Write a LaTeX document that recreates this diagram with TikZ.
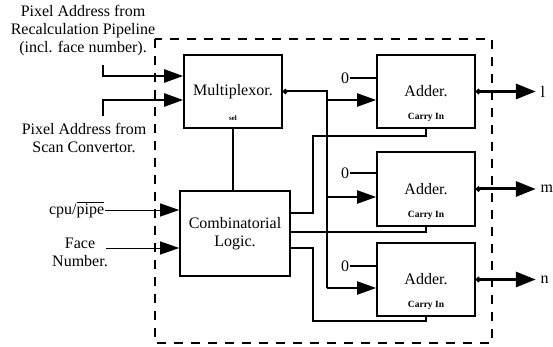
\documentclass[tikz,border=0pt]{standalone}
\usepackage{fontspec}
\setmainfont{Liberation Serif}
\usetikzlibrary{arrows.meta,calc}
\tikzset{every picture/.style={line width=1.6pt}}

\begin{document}
\begin{tikzpicture}[x=1pt,y=-1pt,
    blk/.style={draw,minimum width=98pt,minimum height=73pt,inner sep=0pt,font=\fontsize{16}{18}\selectfont},
    lbl/.style={align=center,inner sep=0pt,font=\fontsize{16}{18}\selectfont},
    tiny/.style={inner sep=0pt,font=\fontsize{9.5}{10}\selectfont\bfseries},
    tip/.style={-{Triangle[length=19pt,width=13pt]}},
    bus/.style={line width=2pt},
    outline/.style={line width=3pt,{Circle[length=5pt]}-{Triangle[length=20pt,width=15pt]},shorten >=4pt}]
    \useasboundingbox (0,0) rectangle (553,347);
    \draw [dash pattern=on 9pt off 8pt,line width=1.8pt] (155,39) rectangle (492,343);
    \node[blk] (mux) at (233,91.5) {Multiplexor.};
    \node[tiny,font=\fontsize{7}{8}\selectfont\bfseries] (sel) at ($(mux.south)+(0,-11)$) {sel};
    \node[blk,minimum width=110pt,minimum height=85pt,align=center] (comb) at (235,233.5) {Combinatorial\\Logic.};
    \node[blk] (add1) at (426,91.5) {Adder.};
    \node[blk,minimum height=74pt] (add2) at (426,189) {Adder.};
    \node[blk] (add3) at (426,279.5) {Adder.};
    \node[tiny] (cin1) at ($(add1.south)+(0,-11)$) {Carry In};
    \node[tiny] (cin2) at ($(add2.south)+(0,-11)$) {Carry In};
    \node[tiny] (cin3) at ($(add3.south)+(0,-11)$) {Carry In};
    \node[lbl] (z1) at (345,78) {0};
    \node[lbl] (z2) at (345,173) {0};
    \node[lbl] (z3) at (345,266) {0};
    \draw (z1.east) -- (z1 -| add1.west);
    \draw (z2.east) -- (z2 -| add2.west);
    \draw (z3.east) -- (z3 -| add3.west);
    \node[lbl] (rp) at (83,31) {Pixel Address from\\Recalculation Pipeline\\(incl. face number).};
    \node[lbl] (sc) at (84,137.5) {Pixel Address from\\Scan Convertor.};
    \node[lbl,anchor=east] (cpu) at (105,210) {cpu/$\overline{\mbox{pipe}}$};
    \node[lbl] (face) at (80,252.5) {Face\\Number.};
    \coordinate (p1) at (103,65);
    \coordinate (p2) at (103,116);
    \coordinate (fin) at (106,248);
    \coordinate (busx) at (327,0);
    \draw [line width=2.4pt,tip] (p1) |- ($(mux.west)+(0,-15.5)$);
    \draw [line width=2.4pt,tip] (p2) |- ($(mux.west)+(0,8.5)$);
    \draw [line width=1pt,tip] (cpu.east) -- (cpu.east -| comb.west);
    \draw [line width=1pt,tip] (fin) -- (fin -| comb.west);
    \draw (mux.south) -- (mux.south |- comb.north);
    \draw [bus,{Circle[length=5pt]}-] (mux.east) -| ($(busx |- add3.west)+(0,8.5)$);
    \draw [bus,tip] ($(busx |- add1.west)+(0,8.5)$) -- ($(add1.west)+(0,8.5)$);
    \draw [bus,tip] ($(busx |- add2.west)+(0,8)$) -- ($(add2.west)+(0,8)$);
    \draw [bus,tip] ($(busx |- add3.west)+(0,8.5)$) -- ($(add3.west)+(0,8.5)$);
    \draw [bus] ($(comb.east)+(0,-20.5)$) -| ($(add1.south)+(-113,7)$) -| (add1.south);
    \draw [bus] ($(comb.east)+(0,-1.5)$) -| (add2.south);
    \draw [bus] ($(comb.east)+(0,14.5)$) -| ($(add3.south)+(-113,4)$) -| (add3.south);
    \node[lbl,anchor=west] (o1) at ($(add1.east)+(64,0)$) {l};
    \node[lbl,anchor=west] (o2) at ($(add2.east)+(64,0)$) {m};
    \node[lbl,anchor=west] (o3) at ($(add3.east)+(64,0)$) {n};
    \draw [outline] (add1.east) -- (o1);
    \draw [outline] (add2.east) -- (o2);
    \draw [outline] (add3.east) -- (o3);
\end{tikzpicture}
\end{document}
